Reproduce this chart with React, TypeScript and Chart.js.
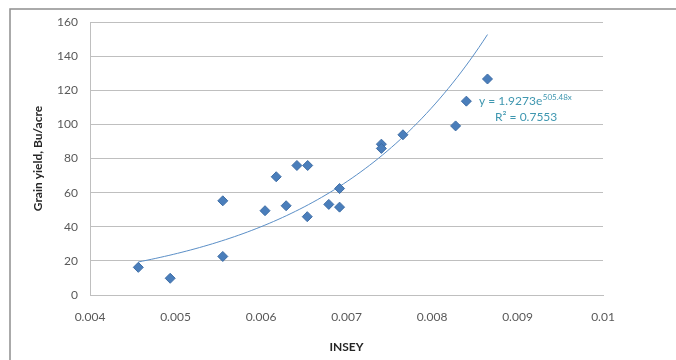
import React, { useEffect, useRef } from "react";
import { Chart, registerables } from "chart.js";

Chart.register(...registerables);

// Scatter data: INSEY vs grain yield
const inseyValues = [
  0.004565, 0.004938, 0.005553, 0.005553, 0.006047, 0.006178, 0.006294, 0.00642,
  0.006546, 0.006541, 0.006793, 0.006919, 0.006919, 0.007408, 0.007408, 0.00766,
  0.008276, 0.008402, 0.008649,
];
const yieldValues = [
  16.2, 9.8, 55.2, 22.6, 49.4, 69.3, 52.3, 75.9,
  75.9, 45.9, 53.1, 62.4, 51.5, 88.4, 85.9, 93.9,
  99.1, 113.6, 126.6,
];

// Exponential trendline as shown on the chart: y = a * e^(b x)
const trendA = 1.9273;
const trendB = 505.48;
const trendSteps = 80;
const equationText = "y = 1.9273e";
const equationExp = "505.48x";
const r2Text = "R² = 0.7553";

const xTickLabels = ["0.004", "0.005", "0.006", "0.007", "0.008", "0.009", "0.01"];
const yTickLabels = ["0", "20", "40", "60", "80", "100", "120", "140", "160"];

const FONT = "Lato, 'Open Sans', sans-serif";
const TICK_COLOR = "#595959";
const GRID_COLOR = "#BFBFBF";

export default function App() {
  const canvasRef = useRef<HTMLCanvasElement | null>(null);

  useEffect(() => {
    document.body.style.margin = "0";
    const canvas = canvasRef.current;
    if (!canvas) return;

    const points = inseyValues.map((x, i) => ({ x, y: yieldValues[i] }));
    const xMin = Math.min(...inseyValues);
    const xMax = Math.max(...inseyValues);
    const trend: { x: number; y: number }[] = [];
    for (let i = 0; i <= trendSteps; i++) {
      const x = xMin + ((xMax - xMin) * i) / trendSteps;
      trend.push({ x, y: trendA * Math.exp(trendB * x) });
    }

    const decorPlugin = {
      id: "decor",
      beforeDraw(chart: any) {
        const ctx = chart.ctx;
        ctx.save();
        ctx.fillStyle = "#ffffff";
        ctx.fillRect(0, 0, chart.width, chart.height);
        ctx.restore();
      },
      afterDraw(chart: any) {
        const ctx = chart.ctx;
        ctx.save();
        // outer chart border (only top/left visible in the crop)
        ctx.strokeStyle = "#8f8f8f";
        ctx.lineWidth = 1.5;
        ctx.strokeRect(10, 9, 800, 500);
        // equation annotation
        ctx.fillStyle = "#3f97b0";
        ctx.textBaseline = "middle";
        ctx.textAlign = "left";
        ctx.font = `12px ${FONT}`;
        const ex = 479;
        const ey = 101;
        ctx.fillText(equationText, ex, ey);
        const w = ctx.measureText(equationText).width;
        ctx.font = `8px ${FONT}`;
        ctx.fillText(equationExp, ex + w + 0.5, ey - 4);
        ctx.font = `12px ${FONT}`;
        ctx.fillText(r2Text, 495, 117);
        ctx.restore();
      },
    };

    const chart = new Chart(canvas, {
      type: "scatter",
      data: {
        datasets: [
          {
            label: "Grain yield",
            data: points,
            pointStyle: "rectRot",
            pointRadius: 5,
            pointBackgroundColor: "#4A7EBB",
            pointBorderColor: "#3F6EA6",
            pointBorderWidth: 1,
            showLine: false,
            order: 1,
          },
          {
            type: "line",
            label: "Trend",
            data: trend,
            borderColor: "#5B8FC7",
            borderWidth: 1,
            pointRadius: 0,
            fill: false,
            tension: 0,
            order: 2,
          } as any,
        ],
      },
      options: {
        responsive: false,
        animation: false,
        events: [],
        layout: { padding: { top: 22, right: 73, left: 0, bottom: 0 } },
        plugins: {
          legend: { display: false },
          tooltip: { enabled: false },
        },
        scales: {
          x: {
            type: "linear",
            min: 0.004,
            max: 0.01,
            afterBuildTicks: (scale: any) => {
              scale.ticks = xTickLabels.map((l) => ({ value: parseFloat(l) }));
            },
            afterFit: (scale: any) => {
              scale.height = 65;
            },
            ticks: {
              padding: 15,
              color: TICK_COLOR,
              font: { family: FONT, size: 12 },
              callback: (_v: any, i: number) => xTickLabels[i],
              maxRotation: 0,
              autoSkip: false,
            },
            grid: { display: false, drawTicks: false },
            border: { display: true, color: GRID_COLOR, width: 1 },
            title: {
              display: true,
              text: "INSEY",
              color: "#262626",
              font: { family: FONT, size: 12, weight: "bold" },
              padding: { top: 0, bottom: 6 },
            },
          },
          y: {
            type: "linear",
            min: 0,
            max: 160,
            afterBuildTicks: (scale: any) => {
              scale.ticks = yTickLabels.map((l) => ({ value: parseFloat(l) }));
            },
            afterFit: (scale: any) => {
              scale.width = 90;
            },
            ticks: {
              padding: 12,
              color: TICK_COLOR,
              font: { family: FONT, size: 12 },
              callback: (_v: any, i: number) => yTickLabels[i],
              autoSkip: false,
            },
            grid: { color: GRID_COLOR, lineWidth: 1, drawTicks: false },
            border: { display: true, color: GRID_COLOR, width: 1 },
            title: {
              display: true,
              text: "Grain yield, Bu/acre",
              color: "#262626",
              font: { family: FONT, size: 12, weight: "bold" },
              padding: { top: 31, bottom: 0 },
            },
          },
        },
      } as any,
      plugins: [decorPlugin],
    });

    return () => chart.destroy();
  }, []);

  return (
    <div style={{ position: "absolute", left: 0, top: 0, width: 676, height: 360 }}>
      <canvas ref={canvasRef} width={676} height={360} style={{ width: 676, height: 360, display: "block" }} />
    </div>
  );
}
